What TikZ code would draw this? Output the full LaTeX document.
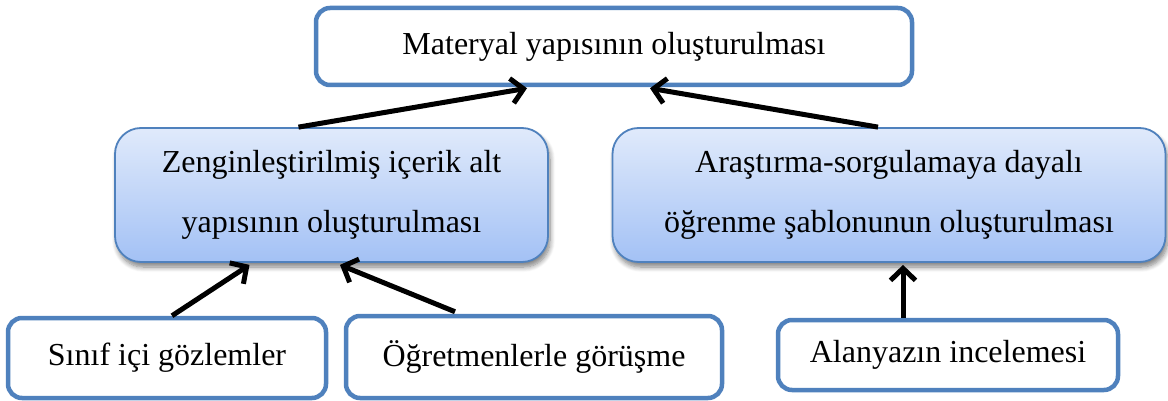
\documentclass[tikz,border=0pt]{standalone}
\usepackage{fontspec}
\setmainfont{Liberation Serif}
\usetikzlibrary{arrows.meta,shadows.blur}
\definecolor{boxblue}{HTML}{4F81BD}
\definecolor{fillhi}{HTML}{E0EAFB}
\definecolor{filllo}{HTML}{A3C1F5}
\tikzset{
  plainbox/.style={rectangle, rounded corners=14pt, draw=boxblue, line width=4.5pt,
    fill=white, align=center, font=\rmfamily\fontsize{32}{40}\selectfont, inner sep=0pt},
  shadebox/.style={rectangle, rounded corners=26pt, draw=boxblue, line width=1.8pt,
    top color=fillhi, bottom color=filllo, align=center,
    font=\rmfamily\fontsize{32}{60}\selectfont, inner sep=0pt,
    blur shadow={shadow xshift=2pt, shadow yshift=-5pt, shadow blur steps=8,
      shadow opacity=50, shadow blur radius=5pt}},
  link/.style={line width=5pt, -{Straight Barb[length=12pt, width=25pt, line width=5pt]}}
}
\begin{document}
\begin{tikzpicture}[x=1pt,y=-1pt]
\useasboundingbox (0,0) rectangle (1168,401);

% headline box
\node[plainbox, minimum width=596pt, minimum height=77pt] (top) at (614,46.5)
  {Materyal yapısının oluşturulması};

% the two sub-structures
\node[shadebox, minimum width=433pt, minimum height=134pt] (lm) at (331.5,195)
  {Zenginleştirilmiş içerik alt\\yapısının oluşturulması};
\node[shadebox, minimum width=553pt, minimum height=134pt] (rm) at (889,195)
  {Araştırma-sorgulamaya dayalı\\öğrenme şablonunun oluşturulması};

% data sources
\node[plainbox, minimum width=318pt, minimum height=80pt] (b1) at (167,358)
  {Sınıf içi gözlemler};
\node[plainbox, minimum width=376pt, minimum height=82pt] (b2) at (534,357)
  {Öğretmenlerle görüşme};
\node[plainbox, minimum width=340pt, minimum height=70pt] (b3) at (948,355)
  {Alanyazın incelemesi};

% connectors
\draw[link] ([xshift=-33pt]lm.north) -- ([xshift=-87pt,yshift=-1pt]top.south);
\draw[link] ([xshift=-11pt]rm.north) -- ([xshift=36pt,yshift=-1pt]top.south);
\draw[link] ([xshift=5pt]b1.north) -- ([xshift=-82pt,yshift=-2pt]lm.south);
\draw[link] ([xshift=-79pt,yshift=2pt]b2.north) -- ([xshift=8.5pt,yshift=-2pt]lm.south);
\draw[link] ([xshift=-45pt]b3.north) -- ([xshift=14pt,yshift=-2pt]rm.south);
\end{tikzpicture}
\end{document}
